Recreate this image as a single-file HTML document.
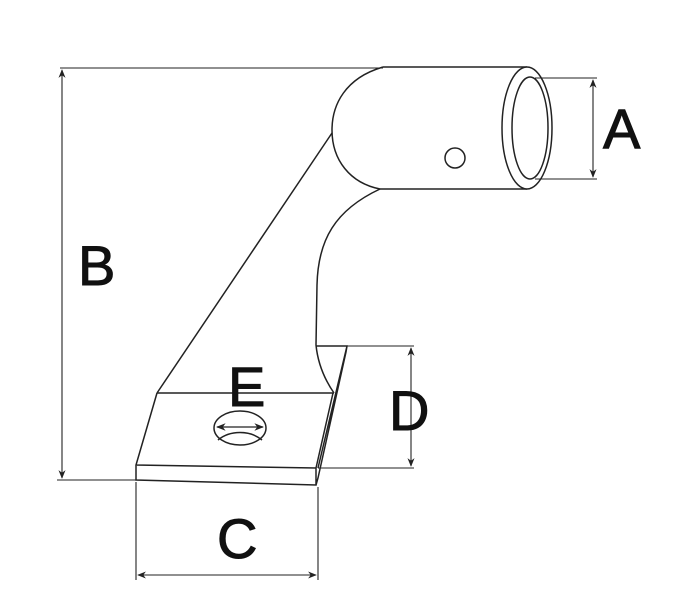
<!DOCTYPE html>
<html><head><style>body{margin:0;background:#fff}svg{display:block}</style></head><body>
<svg width="674" height="602" viewBox="0 0 674 602" xmlns="http://www.w3.org/2000/svg">
<defs><marker id="a" viewBox="0 0 10 10" refX="9" refY="5" markerWidth="8" markerHeight="8" orient="auto-start-reverse"><path d="M0,1 L10,5 L0,9 L3,5 z" fill="#222"/></marker></defs>
<g fill="none" stroke="#222" stroke-width="1.5">
<path d="M383,67 L527,67 M380,189 L527,189"/>
<path d="M383,67 C345,78 332,105 332,130 C332,160 350,183 380,189"/>
<ellipse cx="527" cy="128" rx="25" ry="61" fill="#fff"/>
<ellipse cx="530" cy="128" rx="18" ry="51"/>
<circle cx="455" cy="158" r="10"/>
<path d="M332,133 L157,393"/>
<path d="M380,189 C335,210 318,240 317,285 L316,345 C318,365 325,380 334,393"/>
<path d="M157,393 L334,393 M157,393 L136,465 L316,468 L333,393 M136,465 L136,480 L316,485 L316,468 M316,346 L347,346 L318,468 M347,346 L346,352 L318,478 L316,485"/>
<ellipse cx="240" cy="428" rx="26" ry="17"/>
<path d="M218,440 C230,430 250,430 262,440"/>
<path d="M217,427 L263,427" marker-start="url(#a)" marker-end="url(#a)" stroke-width="1.2"/>
<g stroke-width="1.1">
<path d="M60,68 L383,68 M57,480 L136,480"/>
<path d="M62,70 L62,478" marker-start="url(#a)" marker-end="url(#a)"/>
<path d="M535,78 L597,78 M535,179 L597,179"/>
<path d="M593,80 L593,177" marker-start="url(#a)" marker-end="url(#a)"/>
<path d="M347,346 L414,346 M318,468 L414,468"/>
<path d="M411,348 L411,466" marker-start="url(#a)" marker-end="url(#a)"/>
<path d="M136,482 L136,580 M318,487 L318,580"/>
<path d="M138,575 L316,575" marker-start="url(#a)" marker-end="url(#a)"/>
</g></g>
<g font-family="Liberation Sans, sans-serif" font-size="56" fill="#111" stroke="#111" stroke-width="1">
<text x="603" y="148">A</text>
<text x="78" y="285">B</text>
<text x="217" y="558">C</text>
<text x="389" y="430">D</text>
<text x="228" y="406">E</text>
</g>
</svg>
</body></html>
